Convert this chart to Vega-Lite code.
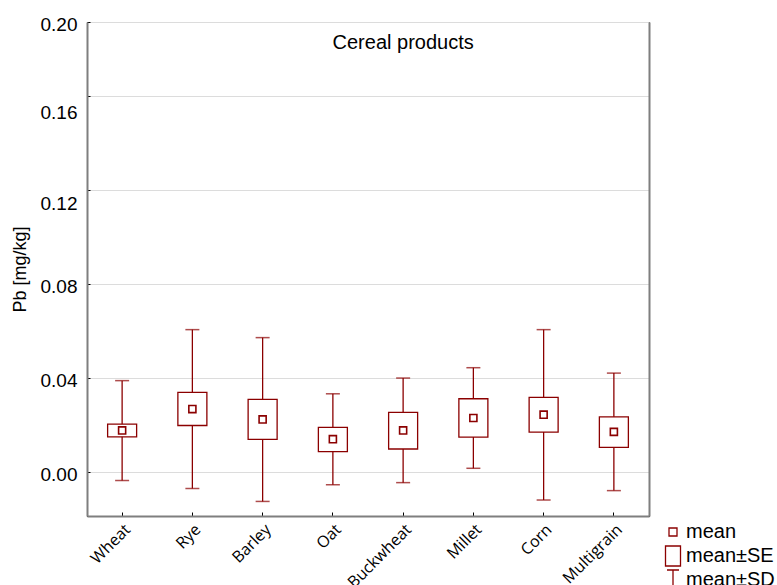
{
  "$schema": "https://vega.github.io/schema/vega-lite/v6.json",
  "width": 562,
  "height": 494,
  "autosize": {"type": "none"},
  "padding": {"left": 87, "top": 22, "right": 128, "bottom": 69},
  "background": "white",
  "config": {
    "view": {"stroke": "black", "strokeWidth": 1},
    "font": "Liberation Sans"
  },
  "datasets": {
    "stats": [
      {"cat": "Wheat", "mean": 0.0177, "se_lo": 0.0150, "se_hi": 0.0204, "sd_lo": -0.0036, "sd_hi": 0.0389},
      {"cat": "Rye", "mean": 0.0268, "se_lo": 0.0198, "se_hi": 0.0339, "sd_lo": -0.0070, "sd_hi": 0.0606},
      {"cat": "Barley", "mean": 0.0224, "se_lo": 0.0139, "se_hi": 0.0309, "sd_lo": -0.0125, "sd_hi": 0.0572},
      {"cat": "Oat", "mean": 0.0140, "se_lo": 0.0087, "se_hi": 0.0190, "sd_lo": -0.0054, "sd_hi": 0.0333},
      {"cat": "Buckwheat", "mean": 0.0177, "se_lo": 0.0098, "se_hi": 0.0254, "sd_lo": -0.0045, "sd_hi": 0.0400},
      {"cat": "Millet", "mean": 0.0230, "se_lo": 0.0149, "se_hi": 0.0312, "sd_lo": 0.0016, "sd_hi": 0.0444},
      {"cat": "Corn", "mean": 0.0244, "se_lo": 0.0170, "se_hi": 0.0318, "sd_lo": -0.0119, "sd_hi": 0.0606},
      {"cat": "Multigrain", "mean": 0.0171, "se_lo": 0.0105, "se_hi": 0.0235, "sd_lo": -0.0079, "sd_hi": 0.0421}
    ],
    "legendItems": [
      {"item": "mean"},
      {"item": "mean±SE"},
      {"item": "mean±SD"}
    ]
  },
  "resolve": {"axis": {"y": "independent"}},
  "layer": [
    {
      "data": {"name": "stats"},
      "mark": {"type": "rule", "color": "#8b0000", "strokeWidth": 1.3},
      "encoding": {
        "x": {
          "field": "cat", "type": "nominal", "sort": null,
          "scale": {"paddingInner": 0, "paddingOuter": 0},
          "axis": {
            "title": null,
            "labelAngle": -45,
            "labelFont": "Open Sans",
            "labelFontSize": 16,
            "labelColor": "black",
            "labelPadding": 9,
            "domainColor": "#7f7f7f",
            "domainWidth": 2,
            "tickColor": "black",
            "tickSize": -4,
            "grid": false
          }
        },
        "y": {
          "field": "sd_lo", "type": "quantitative",
          "scale": {"domain": [-0.0187, 0.1915], "nice": false, "zero": false},
          "axis": {
            "title": "Pb [mg/kg]",
            "titleFont": "Liberation Sans",
            "titleFontSize": 18,
            "titleFontWeight": "normal",
            "titleColor": "black",
            "titlePadding": 11,
            "values": [0, 0.04, 0.08, 0.12, 0.16, 0.1915],
            "labelExpr": "datum.value > 0.18 ? '0.20' : format(datum.value, '.2f')",
            "labelFont": "Liberation Sans",
            "labelFontSize": 19,
            "labelColor": "black",
            "labelPadding": 13,
            "labelOffset": {
              "condition": [
                {"test": "datum.value > 0.15 && datum.value < 0.17", "value": 16},
                {"test": "datum.value > 0.11 && datum.value < 0.13", "value": 13}
              ],
              "value": 2
            },
            "domainColor": "#7f7f7f",
            "domainWidth": 2,
            "tickColor": "black",
            "tickSize": -3,
            "grid": true,
            "gridColor": "#dcdcdc",
            "gridWidth": 1
          }
        },
        "y2": {"field": "sd_hi"}
      }
    },
    {
      "data": {"name": "stats"},
      "mark": {"type": "tick", "color": "#8b0000", "size": 14, "thickness": 1.5},
      "encoding": {
        "x": {"field": "cat", "type": "nominal", "sort": null},
        "y": {
          "field": "sd_hi", "type": "quantitative",
          "axis": {
            "orient": "right",
            "title": null,
            "labels": false,
            "ticks": false,
            "grid": false,
            "domainColor": "#7f7f7f",
            "domainWidth": 2
          }
        }
      }
    },
    {
      "data": {"name": "stats"},
      "mark": {"type": "tick", "color": "#8b0000", "size": 14, "thickness": 1.5},
      "encoding": {
        "x": {"field": "cat", "type": "nominal", "sort": null},
        "y": {"field": "sd_lo", "type": "quantitative", "axis": null}
      }
    },
    {
      "data": {"name": "stats"},
      "mark": {"type": "bar", "width": 29, "fill": "white", "stroke": "#8b0000", "strokeWidth": 1.3},
      "encoding": {
        "x": {"field": "cat", "type": "nominal", "sort": null},
        "y": {"field": "se_lo", "type": "quantitative", "axis": null},
        "y2": {"field": "se_hi"}
      }
    },
    {
      "data": {"name": "stats"},
      "mark": {"type": "point", "shape": "square", "size": 50, "filled": false, "color": "#8b0000", "strokeWidth": 1.6, "opacity": 1},
      "encoding": {
        "x": {"field": "cat", "type": "nominal", "sort": null},
        "y": {"field": "mean", "type": "quantitative", "axis": null}
      }
    },
    {
      "data": {"values": [{"label": "Cereal products"}]},
      "mark": {"type": "text", "font": "Liberation Sans", "fontSize": 20, "color": "black", "baseline": "middle", "align": "center"},
      "encoding": {
        "x": {"datum": "Buckwheat", "type": "nominal"},
        "y": {"datum": 0.1826, "type": "quantitative", "axis": null},
        "text": {"field": "label"}
      }
    },
    {
      "data": {"name": "legendItems"},
      "mark": {"type": "point", "filled": false, "color": "#8b0000", "opacity": 0},
      "encoding": {
        "shape": {
          "field": "item", "type": "nominal", "sort": null,
          "scale": {
            "domain": ["mean", "mean±SE", "mean±SD"],
            "range": [
              "M-0.75,-1M0.75,1M-0.4,-0.4L0.4,-0.4L0.4,0.4L-0.4,0.4Z",
              "M-0.75,-1M0.75,1M-0.75,-1L0.75,-1L0.75,1L-0.75,1Z",
              "M-0.75,-1M0.75,1M-0.6,-1L0.6,-1M0,-1L0,1"
            ]
          },
          "legend": {
            "title": null,
            "orient": "none",
            "legendX": 575,
            "legendY": 499,
            "padding": 0,
            "symbolSize": 400,
            "symbolStrokeColor": "#8b0000",
            "symbolFillColor": "white",
            "symbolStrokeWidth": 1.3,
            "symbolOpacity": 1,
            "labelFont": "Liberation Sans",
            "labelFontSize": 20,
            "labelColor": "black",
            "labelOffset": 2,
            "rowPadding": -5.5
          }
        }
      }
    }
  ]
}
